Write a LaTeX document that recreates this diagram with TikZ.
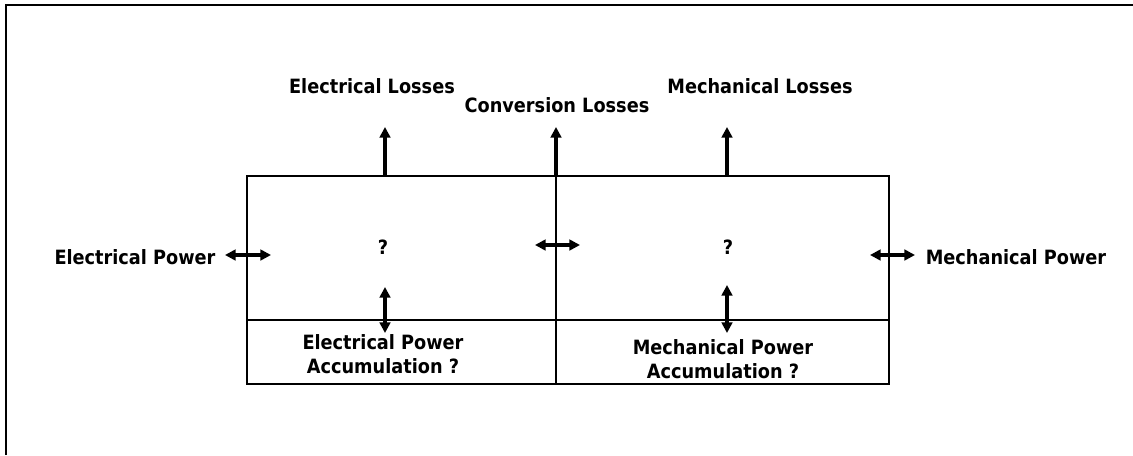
\documentclass[tikz,border=0pt]{standalone}
\usepackage{fontspec}
\setmainfont{DejaVu Sans Condensed}[BoldFont={DejaVu Sans Condensed Bold}]
\usetikzlibrary{arrows.meta}

\tikzset{
  lbl/.style={font=\fontsize{14}{17.5}\selectfont\bfseries, inner sep=0pt, align=center},
  flow/.style={line width=2.3pt, -{Triangle[length=7.5pt,width=7.5pt]}},
  bothflow/.style={line width=2.3pt, {Triangle[length=7.5pt,width=7.5pt]}-{Triangle[length=7.5pt,width=7.5pt]}},
}

\begin{document}
\begin{tikzpicture}[x=0.025cm, y=-0.025cm]
  \useasboundingbox (0,0) rectangle (1133,455);
  % --- ramme ---
  \draw[line width=2pt] (6,455) -- (6,5) -- (1133,5);
  % --- boks ---
  \draw[line width=1.7pt] (247,176) rectangle (889,384);
  \draw[line width=1.7pt] (247,320) -- (889,320);
  \draw[line width=1.7pt] (556,176) -- (556,384);
  % --- tekster ---
  \node[lbl] (eloss) at (372,86)  {Electrical Losses};
  \node[lbl] (closs) at (557,105) {Conversion Losses};
  \node[lbl] (mloss) at (760,86)  {Mechanical Losses};
  \node[lbl] (epow)  at (135,257) {Electrical Power};
  \node[lbl] (mpow)  at (1016,257) {Mechanical Power};
  \node[lbl] (eq)    at (383,247) {?};
  \node[lbl] (mq)    at (728,247) {?};
  \node[lbl] (eacc)  at (383,354) {Electrical Power\\Accumulation ?};
  \node[lbl] (macc)  at (723,359) {Mechanical Power\\Accumulation ?};
  % --- pile ---
  \coordinate (elA) at (385,176);  \coordinate (elB) at (385,127);
  \coordinate (clA) at (556,176);  \coordinate (clB) at (556,127);
  \coordinate (mlA) at (727,176);  \coordinate (mlB) at (727,127);
  \coordinate (epA) at (225,255);  \coordinate (epB) at (271,255);
  \coordinate (cvA) at (535,245);  \coordinate (cvB) at (580,245);
  \coordinate (mpA) at (870,255);  \coordinate (mpB) at (915,255);
  \coordinate (eaA) at (385,287);  \coordinate (eaB) at (385,333);
  \coordinate (maA) at (727,285);  \coordinate (maB) at (727,333);
  \draw[flow] (elA) -- (elB);
  \draw[flow] (clA) -- (clB);
  \draw[flow] (mlA) -- (mlB);
  \draw[bothflow] (epA) -- (epB);
  \draw[bothflow] (cvA) -- (cvB);
  \draw[bothflow] (mpA) -- (mpB);
  \draw[bothflow] (eaA) -- (eaB);
  \draw[bothflow] (maA) -- (maB);
\end{tikzpicture}
\end{document}
